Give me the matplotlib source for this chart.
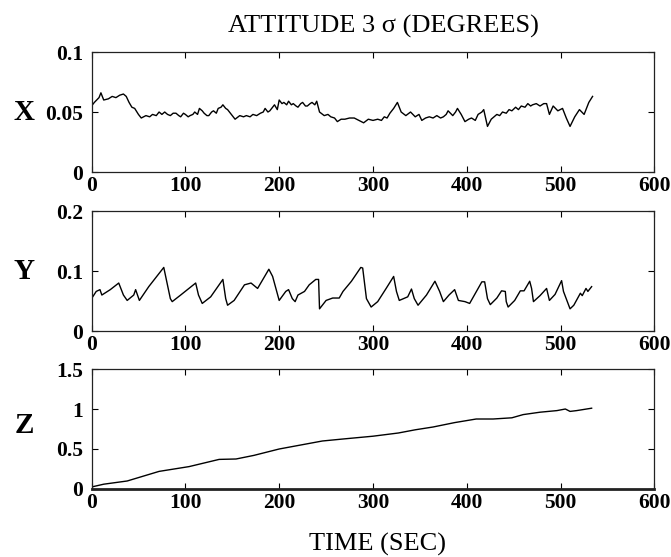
import matplotlib
matplotlib.use('Agg')
from matplotlib import pyplot as plt

# time (sec) and 3-sigma attitude error (deg)
x_t = [0, 3, 8, 10, 13, 18, 22, 26, 30, 34, 37, 40, 43, 46, 50, 53, 58, 62, 65, 69,
       72, 75, 78, 81, 84, 87, 90, 93, 95, 98, 100, 103, 105, 108, 110, 113, 115, 118,
       120, 123, 125, 128, 130, 133, 135, 138, 140, 143, 145, 148, 150, 153, 158, 162,
       165, 169, 172, 176, 180, 183, 185, 188, 190, 193, 195, 198, 200, 203, 205, 208,
       210, 213, 215, 218, 220, 223, 225, 228, 230, 233, 235, 238, 240, 243, 248, 252,
       255, 259, 262, 266, 270, 275, 280, 285, 290, 295, 300, 305, 309, 312, 315, 318,
       322, 326, 330, 335, 340, 345, 349, 352, 356, 360, 364, 368, 372, 375, 378, 380,
       385, 388, 390, 394, 398, 402, 405, 409, 412, 416, 418, 422, 426, 429, 432, 435,
       438, 442, 445, 448, 452, 455, 458, 462, 465, 468, 470, 474, 478, 482, 485, 488,
       492, 497, 502, 506, 510, 515, 520, 525, 530, 534]
x_val = [0.055, 0.058, 0.062, 0.066, 0.060, 0.061, 0.063, 0.062, 0.064, 0.065, 0.063,
         0.058, 0.054, 0.053, 0.048, 0.045, 0.047, 0.046, 0.048, 0.047, 0.050, 0.048,
         0.050, 0.048, 0.047, 0.049, 0.049, 0.047, 0.046, 0.049, 0.048, 0.046, 0.047,
         0.048, 0.050, 0.048, 0.053, 0.051, 0.049, 0.047, 0.047, 0.050, 0.051, 0.049,
         0.053, 0.054, 0.056, 0.053, 0.052, 0.049, 0.047, 0.044, 0.047, 0.046, 0.047,
         0.046, 0.048, 0.047, 0.049, 0.050, 0.053, 0.050, 0.051, 0.054, 0.056, 0.052,
         0.060, 0.057, 0.058, 0.056, 0.059, 0.056, 0.057, 0.055, 0.054, 0.057, 0.058,
         0.055, 0.055, 0.057, 0.058, 0.056, 0.059, 0.050, 0.047, 0.048, 0.046, 0.045,
         0.042, 0.044, 0.044, 0.045, 0.045, 0.043, 0.041, 0.044, 0.043, 0.044, 0.043,
         0.046, 0.045, 0.049, 0.053, 0.058, 0.050, 0.047, 0.050, 0.046, 0.048, 0.043,
         0.045, 0.046, 0.045, 0.047, 0.045, 0.046, 0.048, 0.051, 0.047, 0.050, 0.053,
         0.048, 0.042, 0.044, 0.045, 0.043, 0.048, 0.050, 0.052, 0.038, 0.044, 0.046,
         0.048, 0.047, 0.050, 0.049, 0.052, 0.051, 0.054, 0.052, 0.055, 0.054, 0.057,
         0.055, 0.056, 0.057, 0.055, 0.057, 0.057, 0.048, 0.055, 0.051, 0.053, 0.045,
         0.038, 0.046, 0.052, 0.048, 0.058, 0.063]

y_t = [0, 5, 9, 11, 20, 29, 34, 38, 45, 47, 51, 61, 77, 84, 86, 95, 111, 114, 118, 127,
       140, 143, 145, 152, 163, 170, 177, 189, 193, 200, 207, 210, 214, 217, 220, 227,
       232, 239, 242, 243, 250, 257, 264, 268, 277, 287, 289, 293, 298, 305, 314, 322,
       325, 328, 337, 341, 344, 348, 357, 366, 371, 375, 381, 387, 391, 398, 403, 416,
       419, 422, 425, 432, 437, 441, 442, 444, 451, 457, 461, 467, 469, 471, 478, 485,
       488, 494, 501, 503, 510, 514, 521, 523, 527, 529, 533]
y_val = [0.054, 0.066, 0.069, 0.060, 0.069, 0.080, 0.060, 0.051, 0.060, 0.069, 0.051,
         0.074, 0.106, 0.054, 0.049, 0.060, 0.080, 0.060, 0.046, 0.057, 0.086, 0.054,
         0.043, 0.051, 0.077, 0.080, 0.071, 0.103, 0.091, 0.051, 0.066, 0.069, 0.054,
         0.049, 0.060, 0.066, 0.077, 0.086, 0.086, 0.037, 0.051, 0.055, 0.055, 0.066,
         0.083, 0.106, 0.105, 0.054, 0.040, 0.049, 0.071, 0.091, 0.066, 0.051, 0.057,
         0.070, 0.054, 0.043, 0.060, 0.083, 0.066, 0.049, 0.060, 0.069, 0.051, 0.049,
         0.046, 0.082, 0.082, 0.054, 0.044, 0.055, 0.067, 0.066, 0.049, 0.040, 0.051,
         0.067, 0.067, 0.083, 0.071, 0.049, 0.059, 0.071, 0.051, 0.061, 0.084, 0.066,
         0.037, 0.043, 0.063, 0.059, 0.071, 0.066, 0.074]

z_t = [0, 13, 38, 72, 104, 136, 154, 173, 200, 223, 246, 268, 300, 327, 345, 364, 387,
       410, 428, 448, 460, 478, 496, 505, 510, 517, 533]
z_val = [0.025, 0.06, 0.10, 0.22, 0.28, 0.37, 0.375, 0.42, 0.50, 0.55, 0.60, 0.625,
         0.66, 0.70, 0.74, 0.775, 0.83, 0.875, 0.875, 0.89, 0.93, 0.96, 0.98, 1.0,
         0.97, 0.98, 1.01]

x_ticks = [0, 100, 200, 300, 400, 500, 600]
panels = [
    ('X', x_t, x_val, [0, 0.05, 0.1], ['0', '0.05', '0.1'], 0.05, 0.6912),
    ('Y', y_t, y_val, [0, 0.1, 0.2], ['0', '0.1', '0.2'], 0.1, 0.4057),
    ('Z', z_t, z_val, [0, 0.5, 1, 1.5], ['0', '0.5', '1', '1.5'], 0.8, 0.1221),
]

serif = 'Liberation Serif'
fig = plt.figure(figsize=(6.71, 5.57), dpi=100)

for name, t, v, yt, ytl, label_y, bottom in panels:
    ax = fig.add_axes([0.1364, bottom, 0.839, 0.2154])
    ax.plot(t, v, color='black', lw=1.0)
    ax.set_xlim(0, 600)
    ax.set_ylim(yt[0], yt[-1])
    ax.set_xticks(x_ticks)
    ax.set_xticklabels([str(x) for x in x_ticks])
    ax.set_yticks(yt)
    ax.set_yticklabels(ytl)
    ax.tick_params(direction='in', top=True, right=True, length=4, width=0.8,
                   labelsize=15.5, pad=3)
    ax.tick_params(axis='y', pad=6)
    for lab in ax.get_xticklabels() + ax.get_yticklabels():
        lab.set_family(serif)
        lab.set_fontweight('bold')
    for sp in ax.spines.values():
        sp.set_linewidth(0.9)
        sp.set_color('#222222')
    if name == 'Z':
        ax.spines['bottom'].set_linewidth(2.0)
    ax.text(-0.12, label_y, name, transform=ax.get_yaxis_transform(),
            ha='center', va='center', fontsize=21, fontweight='bold', family=serif)

fig.text(0.571, 0.941, 'ATTITUDE 3 \u03c3 (DEGREES)', ha='center', va='baseline',
         fontsize=19, family=serif)
fig.text(0.562, 0.012, 'TIME (SEC)', ha='center', va='baseline',
         fontsize=19, family=serif)

plt.savefig('out.png', dpi=100)
